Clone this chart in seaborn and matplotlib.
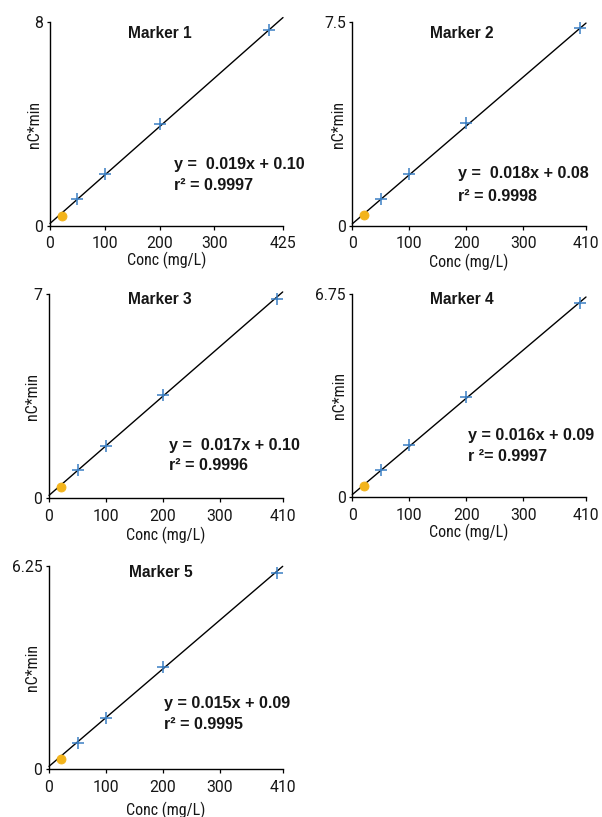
import matplotlib
matplotlib.use("Agg")
import matplotlib.pyplot as plt
import seaborn as sns
import pandas as pd

sns.set_theme(style="ticks")
plt.rcParams["font.family"] = ["Roboto", "DejaVu Sans"]

# Calibration data: concentration (mg/L) vs. peak area (nC*min)
conc = [50, 100, 200, 400]
low_conc = [21]

marker_names = ["Marker 1", "Marker 2", "Marker 3", "Marker 4", "Marker 5"]
area_m1 = [1.05, 2.04, 4.00, 7.69]
area_m2 = [0.98, 1.90, 3.78, 7.29]
area_m3 = [0.97, 1.80, 3.54, 6.83]
area_m4 = [0.91, 1.74, 3.34, 6.46]
area_m5 = [0.80, 1.59, 3.14, 6.03]
low_area = [0.41, 0.40, 0.38, 0.38, 0.31]

slopes = [0.019, 0.018, 0.017, 0.016, 0.015]
intercepts = [0.10, 0.08, 0.10, 0.09, 0.09]
equations = ["y =  0.019x + 0.10", "y =  0.018x + 0.08", "y =  0.017x + 0.10",
             "y = 0.016x + 0.09", "y = 0.015x + 0.09"]
r2_labels = ["r\u00b2 = 0.9997", "r\u00b2 = 0.9998", "r\u00b2 = 0.9996",
             "r \u00b2= 0.9997", "r\u00b2 = 0.9995"]
y_max = [8, 7.5, 7, 6.75, 6.25]
x_max = [425, 410, 410, 410, 410]
y_tick_labels = ["8", "7.5", "7", "6.75", "6.25"]

areas = [area_m1, area_m2, area_m3, area_m4, area_m5]

# Panel boxes in pixels: left, right, top, bottom
W, H = 602, 817
boxes = [(50, 283, 22, 226), (352.3, 586, 22, 226),
         (49, 282.7, 294, 498.3), (352.3, 586, 294, 497.3),
         (49, 282.7, 566, 769.3)]
title_pos = [(0.47, 0.946), (0.47, 0.946), (0.475, 0.975), (0.47, 0.975), (0.48, 0.966)]
eq_pos = [(0.532, 0.30, 0.20), (0.453, 0.255, 0.144), (0.515, 0.257, 0.16),
          (0.496, 0.306, 0.20), (0.49, 0.325, 0.218)]
ylabel_x = [34, 338.7, 33, 339.3, 33]
xlabel_gap = [34.7, 36.3, 36.7, 35.4, 40.7]

fig = plt.figure(figsize=(W / 100, H / 100), dpi=100)
bold_family = ["Liberation Sans", "DejaVu Sans"]
label_family = ["Roboto Condensed", "Roboto", "DejaVu Sans"]
text_color = "#161616"

for i in range(5):
    l, r, t, b = boxes[i]
    ax = fig.add_axes([l / W, 1 - b / H, (r - l) / W, (b - t) / H])
    df = pd.DataFrame({"conc": conc, "area": areas[i]})
    fit = pd.DataFrame({"conc": [0, x_max[i]],
                        "area": [intercepts[i], slopes[i] * x_max[i] + intercepts[i]]})
    sns.lineplot(data=fit, x="conc", y="area", ax=ax, color="black", lw=1.0,
                 clip_on=False, zorder=2)
    sns.scatterplot(x=low_conc, y=[low_area[i]], ax=ax, color="#f3b41b", s=42,
                    edgecolor="#f3b41b", linewidth=0.6, zorder=3, clip_on=False)
    sns.scatterplot(data=df, x="conc", y="area", ax=ax, marker="+", s=64,
                    color="#3a7fc4", linewidth=1.1, zorder=4, clip_on=False)

    ax.set_xlim(0, x_max[i])
    ax.set_ylim(0, y_max[i])
    ax.set_xticks([0, 100, 200, 300, x_max[i]])
    ax.set_xticklabels(["0", "100", "200", "300", str(x_max[i])])
    ax.set_yticks([0, y_max[i]])
    ax.set_yticklabels(["0", y_tick_labels[i]])
    ax.tick_params(axis="x", length=3.2, width=0.9, pad=4.2, labelsize=11.3,
                   colors="black", labelcolor=text_color)
    ax.tick_params(axis="y", length=2.4, width=0.9, pad=2.3, labelsize=11.3,
                   colors="black", labelcolor=text_color)
    sns.despine(ax=ax)
    for s in ("left", "bottom"):
        ax.spines[s].set_linewidth(1.0)
        ax.spines[s].set_color("black")
    ax.set_facecolor("white")

    ax.set_xlabel("Conc (mg/L)", fontsize=11.5, color=text_color, family=label_family)
    ax.xaxis.set_label_coords(0.5, -xlabel_gap[i] / (b - t))
    ax.xaxis.label.set_va("center")
    ax.set_ylabel("nC*min", fontsize=11.5, color=text_color, family=label_family)
    ax.yaxis.set_label_coords((ylabel_x[i] - l) / (r - l), 0.5)
    ax.yaxis.label.set_va("center")

    tx, ty = title_pos[i]
    ax.text(tx, ty, marker_names[i], transform=ax.transAxes, ha="center",
            va="center", fontsize=11.2, fontweight="bold", family=bold_family,
            color=text_color)
    ex, ey1, ey2 = eq_pos[i]
    ax.text(ex, ey1, equations[i], transform=ax.transAxes, ha="left", va="center",
            fontsize=11.6, fontweight="bold", family=bold_family, color=text_color)
    ax.text(ex, ey2, r2_labels[i], transform=ax.transAxes, ha="left", va="center",
            fontsize=11.6, fontweight="bold", family=bold_family, color=text_color)

fig.savefig("out.png", dpi=100, facecolor="white")
